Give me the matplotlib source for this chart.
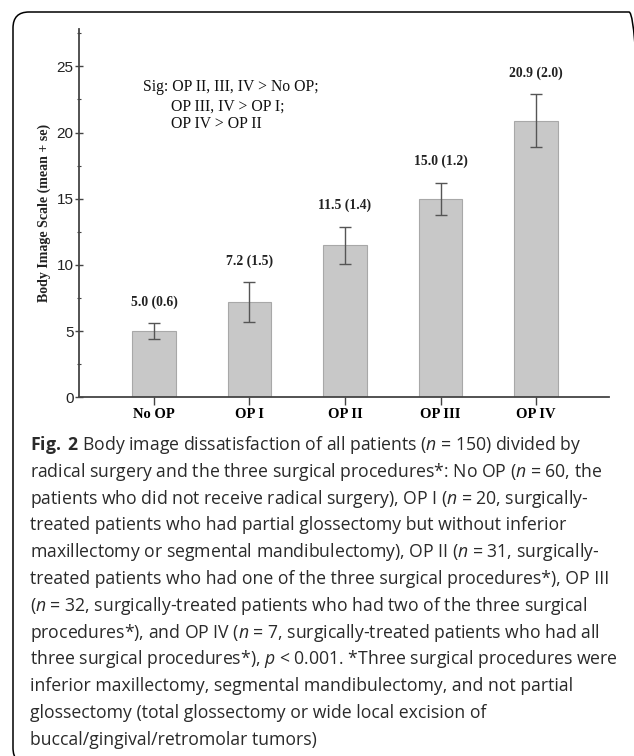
import matplotlib
matplotlib.use("Agg")
import matplotlib.pyplot as plt
from matplotlib.patches import FancyBboxPatch
from matplotlib.transforms import IdentityTransform
from matplotlib.ticker import MultipleLocator

# datos
grupos = ["No OP", "OP I", "OP II", "OP III", "OP IV"]
medias = [5.0, 7.2, 11.5, 15.0, 20.9]
errores = [0.6, 1.5, 1.4, 1.2, 2.0]

sig_lineas = ["Sig: OP II, III, IV > No OP;",
              "OP III, IV > OP I;",
              "OP IV > OP II"]

leyenda = [
    r"$\mathbf{Fig.}$ $\mathbf{2}$ Body image dissatisfaction of all patients ($\mathit{n}$ = 150) divided by",
    r"radical surgery and the three surgical procedures*: No OP ($\mathit{n}$ = 60, the",
    r"patients who did not receive radical surgery), OP I ($\mathit{n}$ = 20, surgically-",
    r"treated patients who had partial glossectomy but without inferior",
    r"maxillectomy or segmental mandibulectomy), OP II ($\mathit{n}$ = 31, surgically-",
    r"treated patients who had one of the three surgical procedures*), OP III",
    r"($\mathit{n}$ = 32, surgically-treated patients who had two of the three surgical",
    r"procedures*), and OP IV ($\mathit{n}$ = 7, surgically-treated patients who had all",
    r"three surgical procedures*), $\mathit{p}$ < 0.001. *Three surgical procedures were",
    r"inferior maxillectomy, segmental mandibulectomy, and not partial",
    r"glossectomy (total glossectomy or wide local excision of",
    r"buccal/gingival/retromolar tumors)",
]

plt.rcParams['mathtext.fontset'] = 'custom'
plt.rcParams['mathtext.rm'] = 'Open Sans'
plt.rcParams['mathtext.it'] = 'Open Sans:italic'
plt.rcParams['mathtext.bf'] = 'Open Sans:bold'

W, H = 634, 756
fig = plt.figure(figsize=(W / 100, H / 100), dpi=100)

# marco redondeado (en pixeles)
marco = FancyBboxPatch((13, -8), 632, 756 - 12 + 8,
                       boxstyle="round,pad=0,rounding_size=16",
                       transform=IdentityTransform(), fill=False,
                       edgecolor='black', linewidth=1.1)
fig.patches.append(marco)

ax = fig.add_axes([79 / W, (H - 397.3) / H, 530 / W, 368 / H])

x = list(range(len(grupos)))
ax.bar(x, medias, width=0.46, color='#c8c8c8', edgecolor='#a8a8a8', linewidth=0.8, zorder=2)
ax.errorbar(x, medias, yerr=errores, fmt='none', ecolor='#555555',
            elinewidth=1.0, capsize=4.3, capthick=1.0, zorder=3)

for xi, m, e in zip(x, medias, errores):
    ax.text(xi, m + e + 1.6, f"{m:.1f} ({e:.1f})", ha='center', va='center',
            family='Liberation Serif', fontweight='bold', fontsize=9.8, color='#222222')

ax.set_xlim(-0.785, 4.764)
ax.set_ylim(0, 27.8)
ax.yaxis.set_major_locator(MultipleLocator(5))
ax.yaxis.set_minor_locator(MultipleLocator(2.5))

for s in ['top', 'right']:
    ax.spines[s].set_visible(False)
for s in ['left', 'bottom']:
    ax.spines[s].set_color('#444444')
    ax.spines[s].set_linewidth(1.3)
ax.patch.set_visible(False)

ax.set_xticks(x)
ax.set_xticklabels(grupos, family='Liberation Serif', fontweight='bold', fontsize=10.5)
ax.tick_params(axis='x', direction='out', length=5.5, width=1.0, color='#444444', pad=2)
ax.tick_params(axis='y', which='major', direction='inout', length=6, width=1.0,
               color='#444444', pad=1, labelsize=11)
ax.tick_params(axis='y', which='minor', direction='inout', length=3, width=0.8, color='#444444')
for t in ax.get_yticklabels():
    t.set_family('Liberation Sans')
    t.set_color('#222222')

ax.set_ylabel("Body Image Scale (mean + se)", family='Liberation Serif',
              fontweight='bold', fontsize=10, va='center', color='#222222')
ax.yaxis.set_label_coords(-(79 - 44) / 530, 0.5)

# texto de significancia
sig_x = [143, 171, 171]
sig_y = [87, 106.5, 124.5]
for txt, px, py in zip(sig_lineas, sig_x, sig_y):
    ax.text((px - 79) / 530, (397.3 - py) / 368, txt, transform=ax.transAxes,
            ha='left', va='center', family='Liberation Serif', fontsize=11.3, color='#111111')

# leyenda de la figura, ajustando el tamano al ancho de las lineas 1 y 9
renderer = fig.canvas.get_renderer()
anchos = 0
for k in (0, 8):
    prueba = fig.text(0, 0, leyenda[k], family='Open Sans', fontsize=12)
    anchos += prueba.get_window_extent(renderer).width
    prueba.remove()
tam = 12 * (562 + 578) / anchos

for i, linea in enumerate(leyenda):
    fig.text(30 / W, 1 - (450 + i * 26.8) / H, linea, family='Open Sans',
             fontsize=tam, color='#2a2a2a', ha='left', va='baseline')

fig.savefig("out.png", dpi=100)
